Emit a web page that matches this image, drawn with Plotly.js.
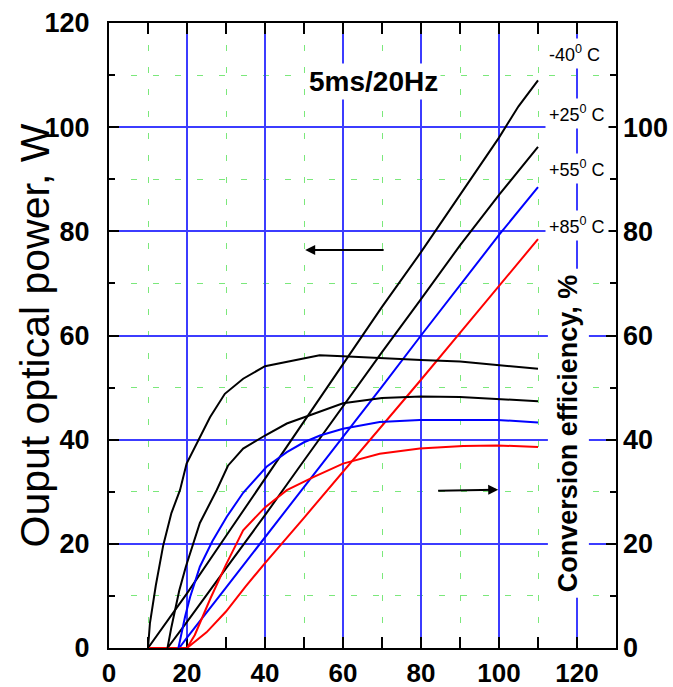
<!DOCTYPE html>
<html>
<head>
<meta charset="utf-8">
<script src="https://cdn.plot.ly/plotly-3.0.1.min.js"></script>
<style>html,body{margin:0;padding:0;background:#fff;}#chart{width:673px;height:687px;}</style>
</head>
<body>
<div id="chart"></div>
<script>
// Output optical power (W) vs drive current, per temperature
const xPowM40 = [10, 20, 30, 40, 50, 60, 70, 80, 90, 100, 105, 110];
const yPowM40 = [0, 10.5, 21.5, 32.5, 43.5, 54.5, 65.5, 76, 87, 98, 104, 109];
const xPowP25 = [15, 20, 30, 40, 50, 60, 70, 80, 90, 100, 110];
const yPowP25 = [0, 5, 15.3, 25.5, 36, 46.5, 56.8, 67, 77.3, 87, 96.2];
const xPowP55 = [18, 20, 30, 40, 50, 60, 70, 80, 90, 100, 110];
const yPowP55 = [0, 2, 11.6, 21.2, 30.8, 40.5, 50.2, 60, 69.7, 79.3, 88.5];
const xPowP85 = [10, 15, 20, 25, 30, 35, 40, 50, 60, 70, 80, 90, 100, 110];
const yPowP85 = [0, 0, 0, 3, 7, 11.8, 16.3, 25, 33.8, 42.5, 51.5, 60.5, 69.5, 78.5];

// Conversion efficiency (%) per temperature
const xEffM40 = [10, 10.5, 12, 13.9, 16, 18.2, 19.9, 22.9, 25.9, 29.7, 34.4, 40, 46.4, 54, 60, 70, 80, 90, 100, 110];
const yEffM40 = [0, 4.8, 12, 19.7, 25.9, 30.3, 35.4, 39.9, 44.3, 48.8, 51.7, 54.1, 55.1, 56.2, 56, 55.6, 55.3, 55, 54.3, 53.6];
const xEffP25 = [15, 16, 18, 19.7, 23.3, 27.6, 30.5, 34.4, 40, 45.6, 51.5, 60, 70, 80, 90, 100, 110];
const yEffP25 = [0, 4, 11, 15.6, 24, 30.3, 35, 38.3, 40.8, 43.1, 44.7, 47, 48, 48.3, 48.2, 47.8, 47.4];
const xEffP55 = [17.8, 19.5, 20.8, 23.3, 26.5, 30.2, 34.4, 40.4, 45.6, 50, 54.1, 60, 69.4, 79.7, 90, 99.5, 110];
const yEffP55 = [0, 6, 9.8, 15.6, 20.5, 25.2, 29.8, 34.8, 37.6, 39.5, 40.8, 42.1, 43.4, 43.8, 43.8, 43.8, 43.3];
const xEffP85 = [20, 22, 26, 30, 34.4, 40, 45.6, 52.4, 60, 69.4, 79.7, 90.8, 99.5, 110];
const yEffP85 = [0, 2.5, 9.5, 16, 22.6, 27, 30.3, 32.8, 35.4, 37.3, 38.3, 38.8, 38.9, 38.6];

const tempLabels = ["-40<sup>0</sup> C", "+25<sup>0</sup> C", "+55<sup>0</sup> C", "+85<sup>0</sup> C"];
const tempLabelY = [114.1, 102.7, 92.0, 81.1];
const xTickVals = [0, 20, 40, 60, 80, 100, 120];
const yTickVals = [0, 20, 40, 60, 80, 100, 120];
const y2TickVals = [0, 20, 40, 60, 80, 100];

const FONT = "Arial, 'Liberation Sans', sans-serif";
const BLACK = "#000000", BLUE = "#0000ff", RED = "#ff0000";

function line(x, y, color, axis) {
  return {x: x, y: y, type: "scatter", mode: "lines", yaxis: axis,
          line: {color: color, width: 2}, hoverinfo: "skip"};
}

const data = [
  line(xPowM40, yPowM40, BLACK, "y"),
  line(xPowP25, yPowP25, BLACK, "y"),
  line(xPowP55, yPowP55, BLUE, "y"),
  line(xPowP85, yPowP85, RED, "y"),
  line(xEffM40, yEffM40, BLACK, "y2"),
  line(xEffP25, yEffP25, BLACK, "y2"),
  line(xEffP55, yEffP55, BLUE, "y2"),
  line(xEffP85, yEffP85, RED, "y2")
];

const annotations = [];
tempLabels.forEach((t, i) => annotations.push({
  x: 111.8, y: tempLabelY[i], xref: "x", yref: "y", text: t, showarrow: false,
  xanchor: "left", yanchor: "middle", bgcolor: "#ffffff", borderpad: 3,
  font: {family: FONT, size: 18, color: "#000"}
}));
annotations.push({
  x: 67.7, y: 108.8, xref: "x", yref: "y", text: "<b>5ms/20Hz</b>", showarrow: false,
  bgcolor: "#ffffff", borderpad: 2, font: {family: FONT, size: 28, color: "#000"}
});
annotations.push({
  x: -0.146, y: 0.5, xref: "paper", yref: "paper", text: "Ouput optical power, W",
  showarrow: false, textangle: -90, xanchor: "center", yanchor: "middle",
  font: {family: FONT, size: 41, color: "#000"}
});
annotations.push({
  x: 117.9, y: 41.2, xref: "x", yref: "y", text: "<b>Conversion efficiency, %</b>",
  showarrow: false, textangle: -90, xanchor: "center", yanchor: "middle",
  bgcolor: "#ffffff", borderpad: 5, font: {family: FONT, size: 27, color: "#000"}
});
annotations.push({
  x: 50.3, y: 76.4, ax: 70.8, ay: 76.4, xref: "x", yref: "y", axref: "x", ayref: "y",
  text: "", showarrow: true, arrowhead: 2, arrowsize: 1, arrowwidth: 2, arrowcolor: "#000"
});
annotations.push({
  x: 99.8, y: 30.4, ax: 84, ay: 30.2, xref: "x", yref: "y", axref: "x", ayref: "y",
  text: "", showarrow: true, arrowhead: 2, arrowsize: 1, arrowwidth: 2, arrowcolor: "#000"
});

const majorGrid = "#3c3cff";
const minorGrid = "#7be87b";

const layout = {
  width: 673, height: 687,
  margin: {l: 109, r: 57, t: 23, b: 39, pad: 0},
  paper_bgcolor: "#ffffff", plot_bgcolor: "#ffffff",
  showlegend: false,
  font: {family: FONT, color: "#000"},
  xaxis: {
    range: [0, 130], tickvals: xTickVals, ticktext: xTickVals.map(String),
    showgrid: true, gridcolor: majorGrid, gridwidth: 1.5,
    showline: true, linecolor: "#000", linewidth: 2, mirror: "allticks",
    ticks: "inside", ticklen: 11, tickwidth: 2, tickcolor: "#000",
    zeroline: false, ticklabelstandoff: 1, layer: "below traces",
    tickfont: {family: FONT, size: 26, color: "#000", weight: "bold"},
    minor: {dtick: 10, tick0: 0, showgrid: true, gridcolor: minorGrid, gridwidth: 1,
            griddash: "6px,16px", ticks: "inside", ticklen: 6, tickwidth: 2, tickcolor: "#000"}
  },
  yaxis: {
    range: [0, 120], tickvals: yTickVals, ticktext: yTickVals.map(String),
    showgrid: true, gridcolor: majorGrid, gridwidth: 2,
    showline: true, linecolor: "#000", linewidth: 2, mirror: "allticks",
    ticks: "inside", ticklen: 10, tickwidth: 2, tickcolor: "#000",
    zeroline: false, ticklabelstandoff: 12,
    tickfont: {family: FONT, size: 27, color: "#000", weight: "bold"},
    minor: {dtick: 10, tick0: 0, showgrid: true, gridcolor: minorGrid, gridwidth: 1,
            griddash: "6px,16px", ticks: "inside", ticklen: 6, tickwidth: 2, tickcolor: "#000"}
  },
  yaxis2: {
    range: [0, 120], overlaying: "y", side: "right", anchor: "x",
    tickvals: y2TickVals, ticktext: y2TickVals.map(String),
    showgrid: false, gridcolor: majorGrid, gridwidth: 2,
    showline: false, zeroline: false, ticks: "",
    ticklabelstandoff: 6,
    tickfont: {family: FONT, size: 27, color: "#000", weight: "bold"}
  },
  annotations: annotations
};

Plotly.newPlot("chart", data, layout, {staticPlot: true, displayModeBar: false});
</script>
</body>
</html>
